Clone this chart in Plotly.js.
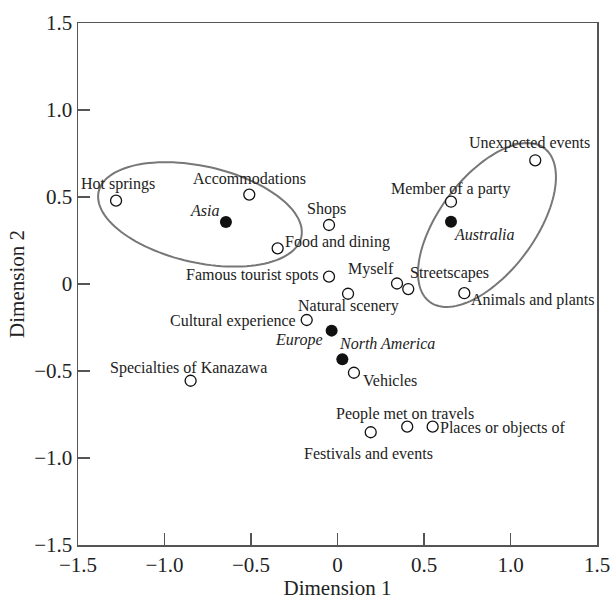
<!DOCTYPE html>
<html>
<head>
<meta charset="utf-8">
<script src="https://cdn.plot.ly/plotly-3.0.1.min.js"></script>
<style>html,body{margin:0;padding:0;background:#fff;}#chart{width:610px;height:600px;}</style>
</head>
<body>
<div id="chart"></div>
<script>
// Attribute points (open circles)
const attrLabels = ["Hot springs","Accommodations","Food and dining","Shops","Famous tourist spots","Myself","Streetscapes","Animals and plants","Natural scenery","Cultural experience","Vehicles","Unexpected events","Member of a party","Specialties of Kanazawa","People met on travels","Places or objects of","Festivals and events"];
const attrX = [-1.280,-0.510,-0.346,-0.049,-0.049,0.344,0.409,0.733,0.061,-0.178,0.095,1.143,0.656,-0.849,0.403,0.550,0.192];
const attrY = [0.479,0.514,0.205,0.339,0.042,0.003,-0.029,-0.053,-0.056,-0.207,-0.510,0.711,0.473,-0.556,-0.820,-0.820,-0.852];

// Region points (filled circles)
const regionLabels = ["Asia","Australia","Europe","North America"];
const regionX = [-0.645,0.656,-0.034,0.028];
const regionY = [0.356,0.358,-0.268,-0.433];

// Ellipses: centre x, centre y, semi-major, semi-minor, rotation (deg)
const ellipseCX = [-0.795, 0.864];
const ellipseCY = [0.400, 0.339];
const ellipseA = [0.600, 0.552];
const ellipseB = [0.277, 0.276];
const ellipseAngle = [-12.5, 53];

// Axis ticks
const tickVals = [-1.5,-1.0,-0.5,0,0.5,1.0,1.5];
const tickText = ["\u22121.5","\u22121.0","\u22120.5","0","0.5","1.0","1.5"];

// label placement: [xanchor, dx px, dy px (down positive)]
const attrPlace = {
  "Hot springs":["center",2,-17],
  "Accommodations":["center",0,-16],
  "Food and dining":["left",5,-6],
  "Shops":["center",-3,-16],
  "Famous tourist spots":["right",-9,-2],
  "Myself":["right",-1,-14],
  "Streetscapes":["left",0,-16],
  "Animals and plants":["left",5,7],
  "Natural scenery":["center",0,12],
  "Cultural experience":["right",-9,1],
  "Vehicles":["left",7,8],
  "Unexpected events":["center",-6,-17],
  "Member of a party":["center",0,-13],
  "Specialties of Kanazawa":["center",-2,-13],
  "People met on travels":["center",-2,-13],
  "Places or objects of":["left",5,1],
  "Festivals and events":["center",-2,21]
};
const regionPlace = {
  "Asia":["right",-5,-12],
  "Australia":["left",1,13],
  "Europe":["right",-7,9],
  "North America":["left",-5,-16]
};

const FONT = "Liberation Serif, Times New Roman, serif";

function ellipsePath(i){
  const n = 120, t = ellipseAngle[i]*Math.PI/180;
  let d = "";
  for(let k=0;k<=n;k++){
    const u = 2*Math.PI*k/n;
    const ex = ellipseA[i]*Math.cos(u), ey = ellipseB[i]*Math.sin(u);
    const x = ellipseCX[i] + ex*Math.cos(t) - ey*Math.sin(t);
    const y = ellipseCY[i] + ex*Math.sin(t) + ey*Math.cos(t);
    d += (k===0?"M":"L") + x.toFixed(4) + "," + y.toFixed(4);
  }
  return d + "Z";
}

const shapes = ellipseCX.map((_,i)=>({
  type:"path", xref:"x", yref:"y", path: ellipsePath(i),
  line:{color:"#777777", width:2}, fillcolor:"rgba(0,0,0,0)", layer:"below"
}));

const annotations = [];
attrLabels.forEach((lab,i)=>{
  const p = attrPlace[lab];
  annotations.push({x:attrX[i], y:attrY[i], xref:"x", yref:"y", text:lab, showarrow:false,
    xanchor:p[0], yanchor:"middle", xshift:p[1], yshift:-p[2],
    font:{family:FONT, size:16, color:"#222"}});
});
regionLabels.forEach((lab,i)=>{
  const p = regionPlace[lab];
  annotations.push({x:regionX[i], y:regionY[i], xref:"x", yref:"y", text:"<i>"+lab+"</i>", showarrow:false,
    xanchor:p[0], yanchor:"middle", xshift:p[1], yshift:-p[2],
    font:{family:FONT, size:16, color:"#222"}});
});

const traces = [
  {x:attrX, y:attrY, mode:"markers", type:"scatter", hoverinfo:"skip",
   marker:{symbol:"circle", size:11, color:"#ffffff", line:{color:"#111", width:1.3}}},
  {x:regionX, y:regionY, mode:"markers", type:"scatter", hoverinfo:"skip",
   marker:{symbol:"circle", size:12, color:"#111", line:{color:"#111", width:0}}}
];

const axisCommon = {
  range:[-1.5,1.5], tickvals:tickVals, ticktext:tickText,
  ticks:"inside", ticklen:12, tickwidth:1.5, tickcolor:"#555",
  showline:true, linecolor:"#555", linewidth:1.5, mirror:true,
  showgrid:false, zeroline:false, ticklabeloverflow:"allow",
  tickfont:{family:FONT, size:21, color:"#222"}
};

const layout = {
  width:610, height:600,
  margin:{l:78, r:13, t:23, b:55, autoexpand:false},
  paper_bgcolor:"#fff", plot_bgcolor:"#fff",
  showlegend:false,
  xaxis: Object.assign({}, axisCommon, {automargin:false, title:{text:"Dimension 1", font:{family:FONT, size:21, color:"#222"}, standoff:2}}),
  yaxis: Object.assign({}, axisCommon, {automargin:false, title:{text:"Dimension 2", font:{family:FONT, size:21, color:"#222"}, standoff:4}}),
  shapes: shapes,
  annotations: annotations
};

Plotly.newPlot("chart", traces, layout, {displayModeBar:false, staticPlot:true});
</script>
</body>
</html>
